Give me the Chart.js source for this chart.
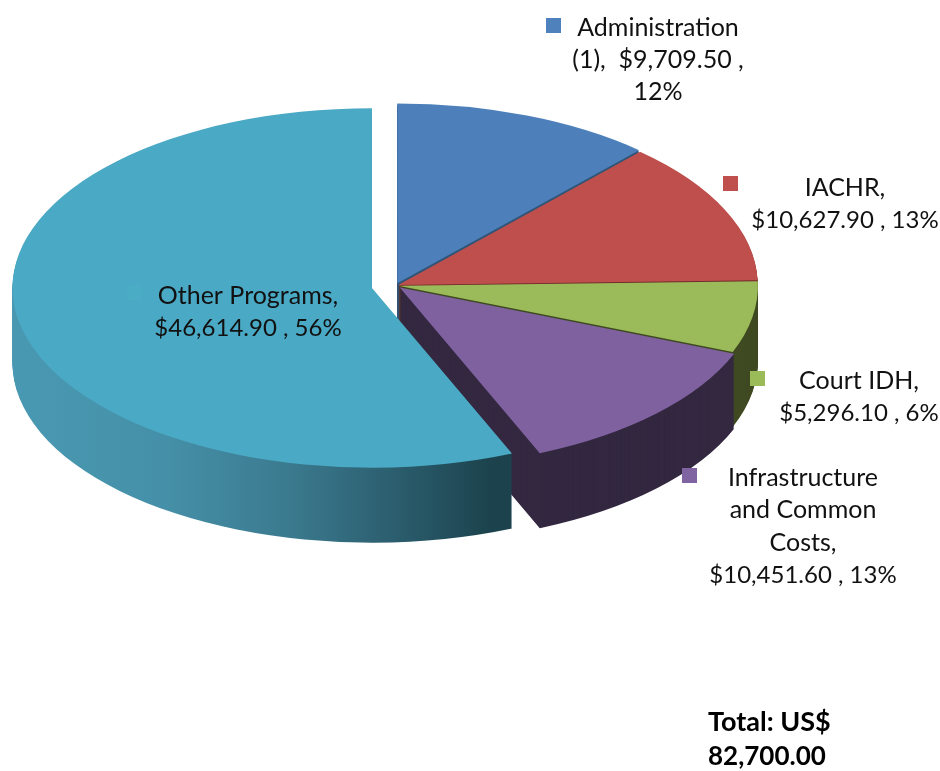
<!DOCTYPE html>
<html>
<head>
<meta charset="utf-8">
<style>html,body{margin:0;padding:0;background:#fff}#w{position:relative;width:940px;height:771px}</style>
<script src="https://cdn.jsdelivr.net/npm/chart.js@4"></script>
</head>
<body>
<div id="w"><canvas id="c" width="940" height="771"></canvas></div>
<script>
const categories = ['Administration (1)', 'IACHR', 'Court IDH', 'Infrastructure and Common Costs', 'Other Programs'];
const values = [9709.50, 10627.90, 5296.10, 10451.60, 46614.90];
const topColors = ['#4d80bb', '#be4f4c', '#9bba59', '#7f61a0', '#4aa9c4'];
const wallColors = ['#2f5578', '#6e2a2a', '#3f4a22', '#332840', null];
const wallStops = [[0, '#4a9ab4'], [0.35, '#4590a8'], [0.6, '#3b7a8f'], [0.8, '#2c5f70'], [1, '#1c434d']];
const offsets = [20, 12, 12, 24, 96];
const labelLines = [
  ['Administration', '(1),  $9,709.50 ,', '12%'],
  ['IACHR,', '$10,627.90 , 13%'],
  ['Court IDH,', '$5,296.10 , 6%'],
  ['Infrastructure', 'and Common', 'Costs,', '$10,451.60 , 13%'],
  ['Other Programs,', '$46,614.90 , 56%']
];
const labelCentres = [[658, 27.5], [845, 188], [859, 381], [803, 478], [248, 296]];
const swatches = [[546, 18], [723, 176], [750, 371], [682, 468], [127, 285]];
const swatchColors = ['#4f81bd', '#c0504d', '#9bbb59', '#8064a2', '#4bacc6'];
const totalLines = ['Total: US$', '82,700.00'];
const totalFontSizes = [27, 26];

const RADIUS = 359.5, SQUASH = 0.5, DEPTH = 75, CY = 285.5;

function ghostOf(arc, fill) {
  const g = Object.create(arc);
  g.options = {
    offset: 0, spacing: 0, circular: true, borderWidth: 0,
    borderColor: 'rgba(0,0,0,0)', borderAlign: 'center', borderDash: [], borderDashOffset: 0,
    borderJoinStyle: 'round', backgroundColor: fill
  };
  return g;
}

const pie3d = {
  id: 'pie3d',
  beforeDatasetDraw(chart, args) {
    const ctx = chart.ctx;
    const arcs = chart.getDatasetMeta(args.index).data;
    arcs.forEach((arc, i) => {
      let wall = wallColors[i];
      if (!wall) {
        wall = ctx.createLinearGradient(12, 0, 513, 0);
        wallStops.forEach(s => wall.addColorStop(s[0], s[1]));
      }
      const mid = (arc.startAngle + arc.endAngle) / 2;
      const off = (arc.options.offset || 0) / 4;
      for (let d = DEPTH; d >= 0; d--) {
        ctx.save();
        ctx.translate(0, arc.y + d);
        ctx.scale(1, SQUASH);
        ctx.translate(Math.cos(mid) * off, -arc.y + Math.sin(mid) * off);
        ghostOf(arc, d === 0 ? topColors[i] : wall).draw(ctx);
        ctx.restore();
      }
    });
    return false;
  },
  afterDraw(chart) {
    const ctx = chart.ctx;
    ctx.save();
    swatches.forEach((s, i) => { ctx.fillStyle = swatchColors[i]; ctx.fillRect(s[0], s[1], 15, 15); });
    ctx.fillStyle = '#111';
    ctx.textAlign = 'center';
    ctx.textBaseline = 'middle';
    labelLines.forEach((lines, i) => {
      lines.forEach((t, j) => {
        const numeric = t.includes('%') && t.length > 4;
        ctx.font = (numeric ? '24px' : '25px') + ' Lato, sans-serif';
        ctx.fillText(t, labelCentres[i][0], labelCentres[i][1] + j * 32.3);
      });
    });
    ctx.textAlign = 'left';
    ctx.fillStyle = '#000';
    totalLines.forEach((t, j) => {
      ctx.font = 'bold ' + totalFontSizes[j] + 'px Lato, sans-serif';
      ctx.fillText(t, 708, 722 + j * 35);
    });
    ctx.restore();
  }
};

new Chart(document.getElementById('c'), {
  type: 'pie',
  data: {
    labels: categories,
    datasets: [{ data: values, backgroundColor: topColors, borderWidth: 0, offset: offsets, hoverOffset: 0, clip: false }]
  },
  options: {
    responsive: false,
    animation: false,
    radius: RADIUS,
    layout: { padding: { left: 0, top: 0, right: 940 - 2 * 395.5, bottom: 771 - 2 * CY } },
    plugins: { legend: { display: false }, tooltip: { enabled: false } },
    events: []
  },
  plugins: [pie3d]
});
</script>
</body>
</html>
